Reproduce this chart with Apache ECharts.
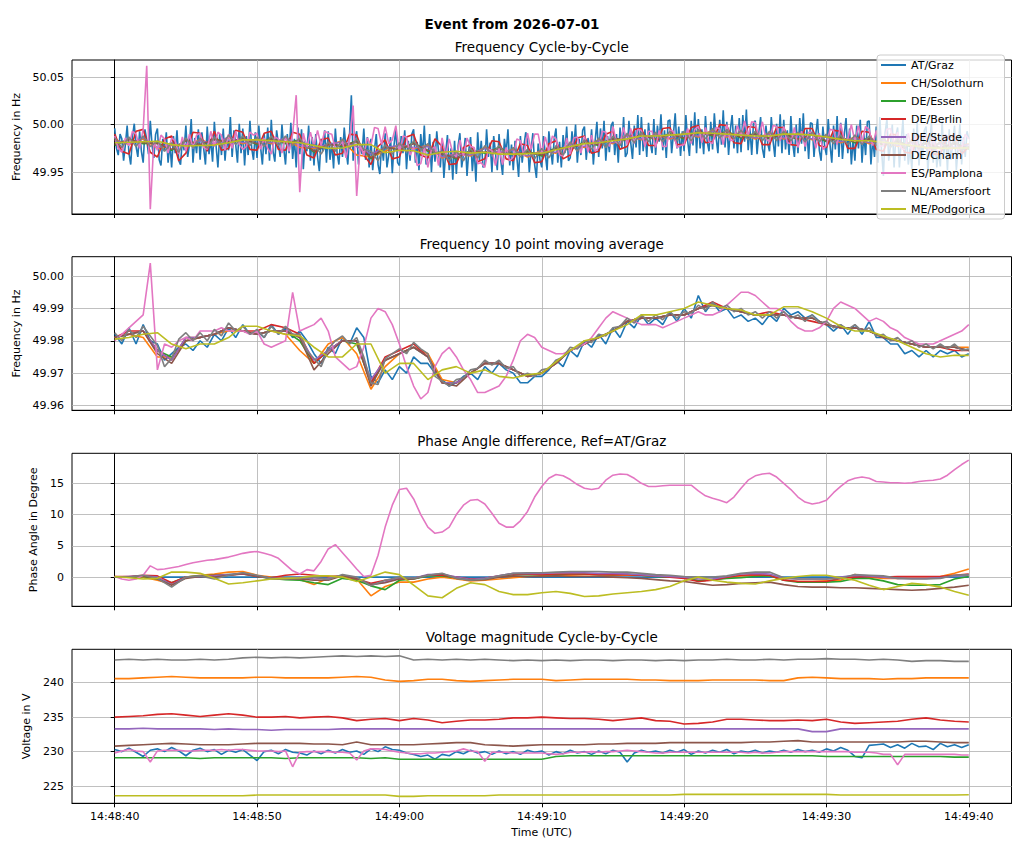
<!DOCTYPE html>
<html><head><meta charset="utf-8">
<script src="https://cdn.jsdelivr.net/npm/echarts@6/dist/echarts.min.js"></script>
<style>html,body{margin:0;padding:0;background:#fff}#c{width:1024px;height:853px}</style>
</head><body><div id="c"></div>
<script>
const stations = ['AT/Graz','CH/Solothurn','DE/Essen','DE/Berlin','DE/Stade','DE/Cham','ES/Pamplona','NL/Amersfoort','ME/Podgorica'];
const colors = ['#1f77b4','#ff7f0e','#2ca02c','#d62728','#9467bd','#8c564b','#e377c2','#7f7f7f','#bcbd22'];
const timeTicks = [0,10,20,30,40,50,60];
const timeTickLabels = ['14:48:40','14:48:50','14:49:00','14:49:10','14:49:20','14:49:30','14:49:40'];
const f1Ticks = [49.95,50.00,50.05];
const f2Ticks = [49.96,49.97,49.98,49.99,50.00];
const pTicks = [0,5,10,15];
const vTicks = [225,230,235,240];

// ---- Panel 1: Frequency cycle-by-cycle (seconds after 14:48:40) ----
const f1_graz = [ // every 0.125 s
49.996,49.975,49.968,49.990,49.985,49.962,49.979,49.999, 49.970,49.958,49.988,50.001,49.977,49.966,49.993,49.972,
49.960,49.995,49.984,49.969,50.004,49.978,49.965,49.990, 49.996,49.963,49.957,49.985,49.972,49.992,49.960,49.981,
49.955,49.988,49.970,49.994,49.962,49.958,49.984,49.973, 49.999,49.966,49.979,50.006,49.960,49.986,49.970,49.995,
49.963,49.992,49.975,49.958,49.998,49.969,49.985,49.961, 50.003,49.977,49.955,49.990,49.968,49.996,49.962,49.987,
49.973,50.008,49.966,49.994,49.979,49.960,50.001,49.970, 49.996,49.957,49.988,49.968,50.004,49.975,49.963,49.992,
49.965,49.999,49.976,49.958,49.990,49.969,49.997,49.962, 50.005,49.972,49.961,49.994,49.980,49.966,50.000,49.975,
49.958,49.990,49.970,50.002,49.964,49.985,49.955,49.997, 49.969,49.995,49.953,49.983,49.972,49.999,49.962,49.987,
49.957,49.990,49.966,49.951,49.985,49.972,49.994,49.960, 49.993,49.963,49.981,49.954,49.996,49.970,49.958,49.987,
49.966,49.997,49.974,49.958,49.991,50.031,49.962,49.985, 49.993,49.958,49.980,49.969,49.996,49.963,49.987,49.955,
49.985,49.952,49.974,49.990,49.958,49.948,49.980,49.962, 49.991,49.955,49.968,49.987,49.949,49.979,49.995,49.960,
49.957,49.988,49.970,49.994,49.953,49.983,49.962,49.990, 49.995,49.960,49.982,49.952,49.990,49.968,49.999,49.958,
49.966,49.990,49.950,49.982,49.961,49.993,49.971,49.955, 49.985,49.944,49.970,49.989,49.952,49.975,49.942,49.983,
49.948,49.978,49.991,49.955,49.969,49.986,49.946,49.973, 49.987,49.951,49.975,49.940,49.992,49.962,49.983,49.955,
49.958,49.995,49.966,49.981,49.950,49.988,49.970,49.952, 49.990,49.962,49.947,49.985,49.970,49.995,49.957,49.979,
49.952,49.983,49.966,49.945,49.988,49.960,49.978,49.992, 49.984,49.950,49.973,49.991,49.958,49.944,49.980,49.963,
49.955,49.988,49.969,49.952,49.993,49.975,49.958,49.985, 49.996,49.960,49.982,49.955,49.989,49.970,49.998,49.962,
49.965,49.993,49.975,50.000,49.960,49.985,49.968,49.994, 49.998,49.963,49.986,49.970,49.995,49.958,49.983,50.003,
49.966,49.996,49.975,50.004,49.962,49.988,49.971,49.999, 50.003,49.968,49.990,49.960,49.997,49.975,50.008,49.966,
49.970,50.004,49.981,49.964,49.999,49.976,50.010,49.968, 50.008,49.972,49.995,49.966,50.002,49.981,49.970,50.006,
49.968,49.999,49.982,50.011,49.973,49.994,49.965,50.004, 50.005,49.970,49.990,50.012,49.975,49.998,49.967,49.993,
49.972,50.010,49.983,49.967,50.004,49.978,50.013,49.970, 50.006,49.975,49.995,49.969,50.009,49.982,49.972,50.003,
49.974,50.012,49.986,49.970,50.005,49.979,50.015,49.976, 50.003,49.968,49.995,50.010,49.975,49.999,49.970,50.007,
49.971,50.010,49.982,50.016,49.973,49.996,49.968,50.002, 50.004,49.969,49.991,50.008,49.975,49.965,49.999,49.980,
49.972,50.008,49.983,49.966,50.001,49.977,50.011,49.970, 50.005,49.974,49.994,49.968,50.009,49.981,49.966,50.000,
49.970,50.007,49.980,50.012,49.972,49.995,49.964,50.002, 50.001,49.966,49.990,50.006,49.973,49.962,49.998,49.977,
49.968,50.006,49.979,49.960,49.999,49.974,50.009,49.966, 50.002,49.964,49.989,50.007,49.970,49.996,49.958,49.985,
49.962,49.999,49.975,50.005,49.960,49.990,49.968,50.003, 50.004,49.958,49.985,49.966,49.998,49.960,50.008,49.972,
49.946,49.992,50.006,49.962,49.979,50.000,49.955,49.988, 49.997,49.955,49.983,50.005,49.962,49.990,49.958,49.975,
49.953,49.996,49.970,50.002,49.957,49.985,49.965,49.994, 49.998,49.950,49.980,50.003,49.960,49.991,49.955,49.972,
49.956,50.004,49.968,49.990,49.952,49.995,49.963,49.984, 49.999,49.952,49.975,50.001,49.958,49.987,49.966,49.993,
49.985];
const f1_solothurn = [ // every 1 s
49.984,49.979,49.985,49.975,49.978,49.978,49.984,49.979,49.986,49.980,49.985,49.980,49.985,49.976,49.975,49.978,
49.983,49.968,49.966,49.972,49.979,49.975,49.978,49.965,49.970,49.967,49.976,49.970,49.974,49.966,49.973,49.970,
49.980,49.976,49.984,49.980,49.989,49.984,49.990,49.985,49.991,49.987,49.994,49.987,49.992,49.985,49.991,49.985,
49.990,49.984,49.988,49.981,49.987,49.980,49.984,49.977,49.982,49.975,49.981,49.975,49.980];
const f1_essen = [
49.978,49.985,49.980,49.981,49.973,49.984,49.978,49.985,49.981,49.986,49.979,49.986,49.980,49.984,49.971,49.980,
49.977,49.983,49.964,49.977,49.973,49.981,49.972,49.970,49.964,49.973,49.970,49.976,49.968,49.972,49.967,49.976,
49.974,49.982,49.978,49.986,49.983,49.990,49.984,49.991,49.985,49.993,49.988,49.993,49.986,49.991,49.985,49.991,
49.984,49.990,49.982,49.987,49.981,49.986,49.978,49.983,49.976,49.981,49.975,49.981,49.974];
const f1_berlin = [ // every 0.5 s
49.990,49.972,49.969,49.993,49.995,49.971,49.966,49.985,49.988,49.962,49.970,49.992,49.991,49.972,49.993,49.973,
49.975,49.994,49.992,49.974,49.973,49.991,49.993,49.974,49.973,49.992,49.990,49.968,49.965,49.984,49.986,49.968,
49.970,49.990,49.989,49.968,49.958,49.977,49.984,49.964,49.966,49.987,49.990,49.968,49.965,49.985,49.977,49.958,
49.959,49.976,49.979,49.961,49.964,49.983,49.982,49.964,49.962,49.980,49.978,49.960,49.961,49.980,49.983,49.964,
49.968,49.986,49.988,49.970,49.972,49.990,49.993,49.974,49.977,49.995,49.996,49.978,49.978,49.996,49.997,49.979,
49.979,49.997,49.999,49.981,49.982,50.000,49.999,49.981,49.980,49.998,49.997,49.979,49.979,49.997,49.997,49.979,
49.978,49.996,49.996,49.978,49.976,49.994,49.993,49.975,49.975,49.993,49.992,49.974,49.972,49.990,49.989,49.971,
49.970,49.988,49.987,49.969,49.969,49.987,49.987,49.969,49.977];
const f1_stade = [
49.983,49.980,49.986,49.976,49.979,49.979,49.983,49.980,49.987,49.981,49.984,49.981,49.986,49.978,49.976,49.979,
49.982,49.977,49.969,49.976,49.978,49.976,49.977,49.966,49.969,49.968,49.975,49.971,49.973,49.967,49.972,49.971,
49.979,49.977,49.983,49.981,49.988,49.985,49.989,49.986,49.990,49.988,49.993,49.988,49.991,49.986,49.990,49.986,
49.989,49.985,49.987,49.982,49.986,49.981,49.983,49.978,49.981,49.976,49.980,49.976,49.979];
const f1_cham = [
49.979,49.984,49.981,49.980,49.974,49.983,49.979,49.984,49.982,49.985,49.980,49.985,49.981,49.983,49.972,49.979,
49.978,49.982,49.965,49.976,49.974,49.980,49.973,49.969,49.965,49.972,49.971,49.975,49.969,49.971,49.968,49.975,
49.975,49.981,49.979,49.985,49.984,49.989,49.985,49.990,49.986,49.992,49.989,49.992,49.987,49.990,49.986,49.990,
49.985,49.989,49.983,49.986,49.982,49.985,49.979,49.982,49.977,49.980,49.976,49.980,49.975];
const f1_pamplona = [ // every 0.25 s
49.988,49.975,49.971,49.986,49.978,49.993,49.990,49.975,49.995,50.062,49.911,49.982,49.973,49.989,49.985,49.970,
49.986,49.983,49.969,49.987,49.972,49.990,49.975,49.989,49.991,49.976,49.974,49.993,49.977,49.992,49.989,49.973,
49.990,49.975,49.993,49.979,49.974,49.977,49.992,49.989,49.991,49.974,49.986,49.975,49.969,49.987,49.985,49.970,
49.988,49.972,49.990,50.031,49.929,49.991,49.976,49.992,49.977,49.994,49.978,49.993,49.991,49.990,49.974,49.978,
49.982,49.965,49.984,50.020,49.925,49.980,49.967,49.986,49.978,49.997,49.996,49.979,49.998,49.980,49.984,49.999,
49.970,49.988,49.987,49.968,49.976,49.957,49.959,49.977,49.955,49.974,49.977,49.957,49.986,49.967,49.985,49.970,
49.966,49.984,49.967,49.986,49.977,49.976,49.959,49.960,49.955,49.974,49.973,49.957,49.975,49.958,49.976,49.962,
49.966,49.985,49.983,49.967,49.991,49.974,49.990,49.990,49.970,49.987,49.972,49.988,49.985,49.968,49.967,49.986,
49.969,49.986,49.987,49.970,49.988,49.971,49.989,49.972,49.976,49.993,49.992,49.977,49.998,49.981,49.980,49.997,
49.979,49.996,49.980,49.995,49.994,49.977,49.993,49.993,49.976,49.994,49.977,49.977,49.994,49.993,49.976,49.978,
49.979,49.996,49.980,49.995,49.998,49.981,49.997,49.982,49.980,49.997,49.996,49.979,50.000,49.983,49.984,49.999,
49.987,50.004,49.988,50.003,50.002,49.986,50.003,49.985,49.982,49.999,49.998,49.983,49.998,49.981,49.980,49.997,
49.976,49.993,49.977,49.992,49.992,49.975,49.991,49.974,49.978,49.995,49.994,49.979,50.001,49.984,49.985,50.000,
49.982,49.999,49.981,49.998,49.995,49.978,49.994,49.977,49.978,49.995,49.996,49.979,49.992,49.975,49.974,49.991,
49.972,49.989,49.971,49.988,49.988,49.971,49.987,49.972,49.972,49.989,49.988,49.973,49.991,49.974,49.975,49.990,
49.985];
const f1_amersfoort = [ // every 0.5 s
49.986,49.976,49.987,49.977,49.988,49.977,49.983,49.972,49.981,49.971,49.986,49.976,49.986,49.975,49.987,49.977,
49.989,49.979,49.988,49.978,49.987,49.977,49.988,49.978,49.988,49.978,49.986,49.975,49.979,49.969,49.982,49.972,
49.985,49.975,49.985,49.974,49.972,49.962,49.979,49.969,49.981,49.971,49.983,49.973,49.980,49.970,49.972,49.962,
49.972,49.962,49.975,49.965,49.978,49.968,49.978,49.968,49.976,49.966,49.974,49.964,49.975,49.965,49.978,49.968,
49.982,49.972,49.984,49.974,49.986,49.976,49.988,49.978,49.991,49.981,49.992,49.982,49.992,49.982,49.993,49.983,
49.993,49.983,49.995,49.985,49.996,49.986,49.995,49.985,49.994,49.984,49.993,49.983,49.993,49.983,49.993,49.983,
49.992,49.982,49.992,49.982,49.990,49.980,49.989,49.979,49.989,49.979,49.988,49.978,49.986,49.976,49.985,49.975,
49.984,49.974,49.983,49.973,49.983,49.973,49.983,49.973,49.977];
const f1_podgorica = [
49.981,49.9815,49.982,49.9825,49.979,49.9775,49.978,49.9785,49.981,49.984,49.984,49.983,49.982,49.981,49.978,49.975,
49.9755,49.979,49.979,49.9705,49.973,49.9725,49.968,49.971,49.972,49.970,49.971,49.969,49.969,49.9695,49.970,49.9735,
49.977,49.980,49.981,49.983,49.985,49.988,49.988,49.989,49.990,49.9915,49.991,49.990,49.989,49.988,49.988,49.990,
49.990,49.989,49.987,49.9845,49.983,49.983,49.9815,49.980,49.978,49.976,49.975,49.9755,49.9755];

// ---- Panel 2: Frequency 10 point moving average ----
const f2_graz = [ // every 0.5 s
49.982,49.979,49.984,49.979,49.985,49.980,49.979,49.974,49.976,49.978,49.979,49.977,49.980,49.978,49.982,49.980,
49.984,49.981,49.985,49.982,49.983,49.981,49.985,49.982,49.984,49.981,49.983,49.980,49.976,49.973,49.978,49.976,
49.981,49.979,49.984,49.981,49.969,49.967,49.971,49.968,49.972,49.970,49.975,49.973,49.973,49.970,49.968,49.966,
49.967,49.969,49.970,49.968,49.972,49.970,49.973,49.971,49.970,49.967,49.967,49.969,49.969,49.971,49.974,49.972,
49.977,49.975,49.980,49.978,49.982,49.979,49.984,49.981,49.986,49.984,49.988,49.985,49.987,49.985,49.989,49.986,
49.990,49.987,49.994,49.989,49.992,49.989,49.990,49.987,49.988,49.986,49.987,49.985,49.988,49.986,49.990,49.988,
49.989,49.987,49.988,49.986,49.985,49.983,49.985,49.982,49.985,49.982,49.986,49.981,49.981,49.979,49.979,49.976,
49.977,49.975,49.977,49.975,49.977,49.976,49.977,49.975,49.976];
const f2_solothurn = [
49.981,49.982,49.981,49.975,49.975,49.980,49.981,49.982,49.983,49.983,49.982,49.983,49.982,49.977,49.973,49.979,
49.981,49.976,49.965,49.972,49.976,49.978,49.976,49.968,49.967,49.970,49.973,49.973,49.971,49.969,49.970,49.973,
49.977,49.979,49.981,49.983,49.986,49.987,49.987,49.988,49.988,49.990,49.991,49.990,49.989,49.988,49.988,49.988,
49.987,49.987,49.985,49.984,49.984,49.983,49.981,49.980,49.979,49.978,49.978,49.978,49.978];
const f2_essen = [
49.981,49.982,49.983,49.977,49.975,49.980,49.981,49.982,49.984,49.983,49.982,49.983,49.983,49.980,49.973,49.977,
49.980,49.979,49.967,49.974,49.976,49.978,49.975,49.967,49.967,49.970,49.973,49.973,49.971,49.969,49.970,49.973,
49.977,49.979,49.981,49.983,49.986,49.987,49.987,49.988,49.988,49.990,49.991,49.990,49.989,49.988,49.988,49.988,
49.987,49.987,49.985,49.984,49.984,49.983,49.981,49.980,49.979,49.978,49.978,49.978,49.977];
const f2_berlin = [
49.981,49.983,49.983,49.977,49.974,49.981,49.981,49.982,49.984,49.983,49.983,49.985,49.984,49.982,49.973,49.977,
49.980,49.980,49.967,49.975,49.977,49.979,49.975,49.967,49.967,49.970,49.973,49.973,49.971,49.969,49.970,49.973,
49.977,49.979,49.981,49.983,49.986,49.987,49.987,49.988,49.988,49.990,49.992,49.990,49.989,49.988,49.989,49.988,
49.987,49.986,49.985,49.984,49.984,49.983,49.981,49.980,49.979,49.978,49.978,49.977,49.977];
const f2_stade = [
49.981,49.982,49.983,49.977,49.974,49.981,49.981,49.982,49.984,49.983,49.982,49.983,49.983,49.981,49.974,49.977,
49.980,49.980,49.968,49.974,49.976,49.978,49.975,49.967,49.967,49.970,49.973,49.973,49.971,49.969,49.970,49.973,
49.977,49.979,49.981,49.983,49.986,49.987,49.987,49.988,49.988,49.990,49.991,49.990,49.989,49.988,49.988,49.988,
49.987,49.987,49.985,49.984,49.984,49.983,49.981,49.980,49.979,49.978,49.978,49.978,49.977];
const f2_cham = [
49.981,49.982,49.983,49.976,49.973,49.980,49.981,49.982,49.984,49.983,49.982,49.983,49.983,49.981,49.971,49.976,
49.980,49.980,49.966,49.974,49.976,49.978,49.975,49.967,49.966,49.970,49.973,49.973,49.971,49.969,49.970,49.973,
49.977,49.979,49.981,49.983,49.986,49.987,49.987,49.988,49.988,49.990,49.991,49.990,49.989,49.988,49.988,49.988,
49.987,49.987,49.985,49.984,49.984,49.983,49.981,49.980,49.979,49.978,49.978,49.978,49.977];
const f2_pamplona = [ // every 0.5 s
49.980,49.982,49.984,49.986,49.988,50.004,49.971,49.979,49.978,49.980,49.981,49.980,49.983,49.983,49.983,49.984,
49.983,49.983,49.983,49.982,49.983,49.979,49.978,49.979,49.980,49.995,49.983,49.984,49.985,49.987,49.983,49.975,
49.973,49.971,49.972,49.978,49.987,49.990,49.989,49.985,49.979,49.972,49.966,49.962,49.964,49.972,49.976,49.978,
49.975,49.971,49.968,49.964,49.964,49.965,49.966,49.969,49.974,49.980,49.982,49.981,49.978,49.977,49.976,49.976,
49.977,49.978,49.979,49.981,49.984,49.987,49.989,49.988,49.987,49.986,49.985,49.985,49.985,49.984,49.985,49.986,
49.987,49.988,49.989,49.988,49.988,49.989,49.991,49.993,49.995,49.995,49.994,49.992,49.990,49.990,49.989,49.986,
49.984,49.983,49.983,49.984,49.986,49.990,49.992,49.991,49.990,49.988,49.986,49.987,49.986,49.984,49.983,49.981,
49.980,49.979,49.979,49.979,49.980,49.981,49.982,49.983,49.985];
const f2_amersfoort = [ // every 0.5 s
49.9825,49.9800,49.9835,49.9810,49.9845,49.9815,49.9785,49.9720,49.9745,49.9805,49.9825,49.9800,49.9825,49.9800,49.9835,49.9815,
49.9855,49.9830,49.9845,49.9820,49.9835,49.9810,49.9845,49.9820,49.9845,49.9820,49.9820,49.9770,49.9745,49.9720,49.9775,49.9800,
49.9815,49.9790,49.9810,49.9750,49.9670,49.9665,49.9745,49.9760,49.9775,49.9760,49.9795,49.9775,49.9760,49.9690,49.9675,49.9660,
49.9680,49.9685,49.9710,49.9715,49.9740,49.9725,49.9740,49.9715,49.9720,49.9690,49.9700,49.9690,49.9710,49.9715,49.9740,49.9750,
49.9780,49.9775,49.9800,49.9795,49.9820,49.9815,49.9840,49.9845,49.9870,49.9855,49.9880,49.9860,49.9880,49.9865,49.9890,49.9870,
49.9890,49.9885,49.9910,49.9895,49.9920,49.9900,49.9910,49.9890,49.9900,49.9880,49.9890,49.9870,49.9890,49.9870,49.9890,49.9870,
49.9880,49.9860,49.9880,49.9855,49.9860,49.9840,49.9850,49.9835,49.9850,49.9830,49.9840,49.9815,49.9820,49.9800,49.9810,49.9790,
49.9800,49.9780,49.9790,49.9775,49.9790,49.9775,49.9790,49.9770,49.9775];
const f2_podgorica = [
49.9805,49.981,49.982,49.9825,49.979,49.9775,49.979,49.979,49.981,49.9845,49.9845,49.983,49.982,49.9815,49.978,49.975,
49.975,49.979,49.979,49.970,49.973,49.973,49.968,49.971,49.972,49.970,49.971,49.969,49.9685,49.9695,49.970,49.9735,
49.977,49.980,49.981,49.983,49.985,49.988,49.988,49.989,49.990,49.992,49.991,49.990,49.9895,49.988,49.988,49.9905,
49.9905,49.989,49.987,49.9845,49.983,49.983,49.9815,49.980,49.978,49.976,49.975,49.9755,49.9755];

// ---- Panel 3: Phase angle difference, Ref=AT/Graz (degree) ----
const p_graz = [
0,0,0,0,0,0,0,0,0,0,0,0,0,0,0,0,0,0,0,0,0,0,0,0,0,0,0,0,0,0,0,0,0,0,0,0,0,0,0,0,0,0,0,0,0,0,0,0,0,0,0,0,0,0,0,0,0,0,0,0,0];
const p_solothurn = [
0,0,0,-0.5,-1.1,0,0.3,0.5,0.8,0.9,0.3,0,-0.2,-0.4,-1.2,-0.2,0.2,-0.3,-3.0,-1.5,-0.8,-0.8,-0.3,0,-0.3,-0.6,-0.5,-0.3,-0.1,0.1,
0.2,0.3,0.3,0.4,0.4,0.3,0.3,0.3,0.2,0.1,0,-0.6,-0.4,-0.1,0.2,0.3,0.2,-0.4,-0.7,-0.7,-0.6,-0.5,0.4,0,-0.2,-0.2,-0.1,0,0.1,0.6,1.3];
const p_essen = [
0,0,0.1,-0.3,-0.9,0,0.2,0.3,0.4,0.5,0.1,-0.2,-0.4,-0.5,-0.9,-1.2,-0.2,-0.5,-1.4,-2.0,-0.5,-0.3,0.2,0.2,-0.1,-0.4,-0.3,0.1,0.4,0.4,
0.4,0.4,0.5,0.5,0.4,0.4,0.5,0.3,0.1,0,0,-0.6,-0.4,-0.2,-0.1,0.1,0.2,-0.5,-0.8,-0.8,-0.8,-0.7,-0.2,-0.2,-0.6,-1.2,-1.3,-1.3,-1.2,-0.3,0.1];
const p_berlin = [
0.1,0.1,0.3,0.2,-0.9,0,0.1,0.3,0.3,0.5,0.1,-0.1,0.3,0.5,0.3,0.1,0.2,-0.3,-1.0,-0.5,-0.3,-0.2,0.3,0.3,0,-0.3,-0.2,0.2,0.5,0.5,
0.4,0.5,0.5,0.5,0.4,0.4,0.4,0.3,0.2,0,-0.2,-0.7,-0.5,0,0.3,0.4,0.3,-0.5,-0.7,-0.7,-0.7,-0.2,0,0.1,0,0.1,0.1,0.1,0.1,0.3,0.5];
const p_stade = [
0,0.1,0.2,0,-1.2,0,0.1,0.2,0.4,0.6,0.2,-0.2,-0.2,0,-0.3,-0.2,0.3,-0.2,-1.2,-0.8,-0.2,-0.2,0.4,0.5,0,-0.4,-0.2,0.2,0.6,0.6,
0.6,0.7,0.7,0.7,0.6,0.6,0.5,0.4,0.2,0.1,0,-0.3,-0.3,0.1,0.5,0.6,0.5,-0.2,-0.3,-0.3,-0.3,0,0.3,0.2,0,-0.2,-0.2,-0.2,-0.1,0.2,0.3];
const p_cham = [
0,0,0.2,-0.3,-1.3,-0.2,0.1,0,0.3,0.6,0.2,-0.2,-0.3,-0.3,-0.5,-0.5,0.2,-0.2,-1.2,-0.9,-0.3,-0.3,0.3,0.5,-0.2,-0.5,-0.4,0,0.2,0.1,
0.1,0.2,0.1,0.1,0.1,0,-0.1,-0.2,-0.4,-0.6,-0.7,-1.0,-1.3,-1.2,-1.0,-0.9,-0.8,-1.2,-1.5,-1.6,-1.6,-1.7,-1.7,-1.8,-1.9,-2.0,-2.1,-2.0,-1.8,-1.6,-1.3];
const p_pamplona = [ // every 0.5 s
0.1,-0.3,-0.5,-0.3,0.3,1.8,1.2,1.3,1.5,1.7,2.0,2.3,2.5,2.7,2.8,3.0,3.2,3.5,3.8,4.0,4.1,3.8,3.5,3.0,2.0,1.0,0.5,1.2,1.0,2.5,
4.5,5.2,3.9,2.6,1.3,0.1,0.3,3.5,8.0,11.5,14.0,14.2,12.5,10.0,8.0,7.0,7.2,8.0,10.0,11.5,12.3,12.4,11.7,10.2,8.6,8.0,8.0,9.0,10.5,12.8,
14.5,15.8,16.4,16.2,15.6,14.8,14.2,14.0,14.2,15.5,16.3,16.5,16.4,15.8,15.0,14.5,14.5,14.6,14.7,14.7,14.7,14.7,13.8,13.0,12.6,12.3,11.9,12.8,14.2,15.5,
16.2,16.5,16.6,16.0,15.0,14.0,12.8,12.0,11.7,11.9,12.3,13.5,14.5,15.4,15.8,16.0,15.8,15.3,15.2,15.1,15.1,15.0,15.1,15.3,15.4,15.5,15.7,16.3,17.2,18.0,
18.7];
const p_amersfoort = [
0,0,0.3,-0.2,-1.6,0,0.2,-0.3,0.3,0.7,0.3,-0.2,-0.3,-0.2,0,-0.4,0.4,0,-1.4,-0.5,0,-0.2,0.3,0.6,-0.2,-0.5,-0.3,0.2,0.6,0.7,
0.7,0.8,0.9,0.9,0.9,0.8,0.8,0.6,0.4,0.3,0.1,0,0,0.2,0.6,0.8,0.8,-0.1,-0.3,-0.3,-0.3,-0.2,0.4,0.3,0.2,-0.2,-0.3,-0.3,-0.2,0.3,0.4];
const p_podgorica = [
0.1,-0.1,-0.3,-0.2,0.8,0.8,0.6,-0.2,-1.1,-0.9,-0.6,-0.3,-0.2,-0.1,0.2,0.2,0,-0.7,0,0.8,0.4,-1.3,-3.0,-3.3,-1.8,-0.9,-1.2,-2.3,-2.8,-2.8,
-2.5,-2.3,-2.6,-3.1,-3.0,-2.7,-2.5,-2.3,-2.0,-1.5,-0.6,0,-0.5,-0.8,-1.0,-1.1,-0.6,-0.2,0.1,0.3,0.3,-0.1,-0.5,-1.3,-2.0,-1.5,-1.0,-1.2,-1.6,-2.3,-2.9];

// ---- Panel 4: Voltage magnitude cycle-by-cycle (V) ----
const v_graz = [ // every 0.5 s
230.3,230.0,230.5,229.9,229.3,230.2,230.4,230.0,230.6,230.1,229.4,230.2,230.5,230.0,230.3,229.6,230.2,229.9,230.3,229.5,
228.7,230.0,230.2,229.7,230.3,229.9,229.8,229.5,230.1,229.7,230.2,229.8,230.3,229.9,230.1,229.6,230.4,230.0,230.7,230.3,
230.2,229.8,229.6,229.3,229.5,228.9,229.6,229.4,230.0,229.7,230.2,229.8,230.0,229.6,230.1,229.7,230.0,229.6,230.2,229.9,
230.1,229.5,230.0,229.7,230.2,229.8,230.0,229.6,230.1,229.7,230.2,229.9,228.5,229.8,230.2,229.9,230.1,229.8,230.2,229.9,
230.3,229.6,230.1,229.8,230.2,229.9,230.3,229.7,230.1,229.9,230.2,229.8,230.1,229.9,230.2,229.9,230.3,230.0,230.2,229.9,
230.4,230.1,230.6,230.2,229.3,229.1,230.9,231.0,231.1,230.6,231.0,230.5,231.2,230.7,230.8,230.3,231.2,230.7,231.0,230.6,
231.0];
const v_solothurn = [
240.6,240.6,240.7,240.8,240.9,240.8,240.7,240.7,240.7,240.7,240.8,240.8,240.7,240.7,240.7,240.7,240.8,240.9,240.8,240.4,
240.2,240.3,240.5,240.5,240.3,240.2,240.3,240.4,240.5,240.5,240.5,240.3,240.4,240.5,240.5,240.5,240.5,240.4,240.4,240.3,
240.3,240.3,240.4,240.4,240.4,240.4,240.3,240.3,240.7,240.8,240.7,240.6,240.6,240.6,240.5,240.6,240.6,240.7,240.7,240.7,
240.7];
const v_essen = [
229.1,229.1,229.1,229.1,229.1,229.1,229.0,229.1,229.1,229.1,229.1,229.1,229.0,229.1,229.1,229.1,229.1,229.1,229.0,229.1,
228.9,228.9,228.9,228.9,228.9,228.9,228.9,228.9,228.9,228.9,228.9,229.3,229.4,229.4,229.4,229.4,229.4,229.4,229.4,229.4,
229.4,229.4,229.4,229.4,229.4,229.4,229.4,229.4,229.4,229.4,229.3,229.3,229.3,229.3,229.3,229.3,229.3,229.3,229.3,229.2,
229.2];
const v_berlin = [
235.0,235.1,235.2,235.4,235.5,235.3,235.1,235.3,235.5,235.3,235.0,235.0,235.1,234.9,235.0,235.1,234.9,234.5,234.7,234.8,
234.5,234.8,234.6,234.2,234.4,234.6,234.6,234.7,234.9,234.9,235.0,234.9,234.8,234.8,234.7,234.5,234.7,234.9,234.5,234.4,
234.0,234.1,234.3,234.7,234.7,234.6,234.5,234.5,234.6,234.5,234.7,234.3,234.1,234.2,234.3,234.4,234.7,234.9,234.6,234.4,
234.3];
const v_stade = [
233.3,233.3,233.4,233.3,233.3,233.3,233.3,233.2,233.3,233.2,233.2,233.1,233.2,233.2,233.2,233.2,233.3,233.3,233.3,233.3,
233.3,233.3,233.3,233.3,233.3,233.3,233.3,233.3,233.3,233.3,233.3,233.3,233.3,233.3,233.3,233.3,233.3,233.3,233.3,233.3,
233.3,233.3,233.3,233.3,233.3,233.3,233.3,233.3,233.3,232.9,232.9,233.3,233.3,233.3,233.3,233.3,233.3,233.3,233.3,233.3,
233.3];
const v_cham = [
230.8,230.9,231.0,231.1,231.2,231.1,231.0,231.0,231.0,231.1,231.2,231.2,231.2,231.2,231.1,231.1,231.0,231.4,231.0,231.0,
231.0,231.0,231.1,231.2,231.3,231.3,231.0,230.9,230.8,230.9,231.0,231.0,231.0,231.0,231.1,231.1,231.2,231.2,231.2,231.3,
231.3,231.3,231.3,231.3,231.3,231.4,231.4,231.5,231.6,231.4,231.4,231.4,231.4,231.4,231.4,231.4,231.5,231.5,231.4,231.3,
231.3];
const v_pamplona = [ // every 0.5 s
229.8,230.1,230.3,230.1,230.0,228.5,230.1,230.2,230.2,230.2,230.1,230.1,230.2,230.2,230.2,230.3,230.2,230.3,230.3,230.2,
230.1,230.1,230.1,230.0,230.1,227.8,229.9,230.0,230.0,230.0,230.0,229.9,229.9,229.8,228.8,230.1,230.4,230.4,230.3,230.1,
229.9,229.8,229.7,229.7,229.8,229.8,229.9,230.0,230.1,230.4,230.1,230.0,228.6,229.9,229.9,229.9,229.8,229.8,229.8,229.8,
229.8,229.7,229.6,229.7,229.9,229.9,229.9,230.0,229.9,230.0,230.0,230.1,230.2,230.1,230.0,229.9,229.8,229.8,229.9,229.9,
229.9,229.9,229.9,229.9,229.9,229.9,229.9,229.9,229.9,229.8,229.9,229.8,229.8,229.9,230.0,230.0,230.0,230.0,230.0,230.0,
230.0,230.0,230.0,230.0,229.9,229.9,229.9,229.8,229.6,229.6,228.1,229.6,229.6,229.6,229.6,229.6,229.6,229.6,229.6,229.5,
229.5];
const v_amersfoort = [
243.3,243.4,243.3,243.4,243.3,243.3,243.4,243.3,243.4,243.6,243.7,243.6,243.7,243.6,243.7,243.8,243.9,243.8,243.9,243.8,
243.9,243.3,243.4,243.3,243.4,243.3,243.4,243.3,243.2,243.3,243.2,243.3,243.2,243.3,243.3,243.2,243.3,243.3,243.2,243.3,
243.2,243.3,243.3,243.4,243.3,243.3,243.4,243.3,243.4,243.4,243.5,243.4,243.4,243.3,243.4,243.3,243.1,243.2,243.2,243.1,
243.1];
const v_podgorica = [
223.6,223.6,223.6,223.6,223.6,223.6,223.6,223.6,223.6,223.6,223.7,223.7,223.7,223.7,223.7,223.7,223.7,223.7,223.7,223.7,
223.5,223.5,223.6,223.6,223.6,223.6,223.6,223.7,223.7,223.7,223.7,223.7,223.7,223.7,223.7,223.7,223.7,223.7,223.7,223.7,
223.8,223.8,223.8,223.8,223.8,223.8,223.8,223.8,223.8,223.8,223.8,223.7,223.7,223.7,223.7,223.7,223.7,223.7,223.7,223.7,
223.75];

// [values, sampling step in seconds] per station, in station order
const panels = [
  [[f1_graz,0.125],[f1_solothurn,1],[f1_essen,1],[f1_berlin,0.5],[f1_stade,1],[f1_cham,1],[f1_pamplona,0.25],[f1_amersfoort,0.5],[f1_podgorica,1]],
  [[f2_graz,0.5],[f2_solothurn,1],[f2_essen,1],[f2_berlin,1],[f2_stade,1],[f2_cham,1],[f2_pamplona,0.5],[f2_amersfoort,0.5],[f2_podgorica,1]],
  [[p_graz,1],[p_solothurn,1],[p_essen,1],[p_berlin,1],[p_stade,1],[p_cham,1],[p_pamplona,0.5],[p_amersfoort,1],[p_podgorica,1]],
  [[v_graz,0.5],[v_solothurn,1],[v_essen,1],[v_berlin,1],[v_stade,1],[v_cham,1],[v_pamplona,0.5],[v_amersfoort,1],[v_podgorica,1]]
];

const FONT = 'DejaVu Sans';
const chart = echarts.init(document.getElementById('c'), null, {renderer:'svg'});
const gridTops = [60, 256.7, 453.3, 649.3];
const gridHeights = [154, 153.6, 153, 154];
const yMins = [49.906, 49.9585, -4.67, 222.5];
const yMaxs = [50.068, 50.006, 19.8, 244.85];
const yTickSets = [f1Ticks, f2Ticks, pTicks, vTicks];
const yDigits = [2, 2, 0, 0];
const yNames = ['Frequency in Hz','Frequency in Hz','Phase Angle in Degree','Voltage in V'];
const yNameGaps = [48, 48, 30, 38];
const titles = ['Frequency Cycle-by-Cycle','Frequency 10 point moving average','Phase Angle difference, Ref=AT/Graz','Voltage magnitude Cycle-by-Cycle'];
const titleY = [46.5, 243.5, 440.5, 636.5];

const grid = [], xAxis = [], yAxis = [], series = [];
const title = [{text:'Event from 2026-07-01', left:512, top:24, textAlign:'center', textVerticalAlign:'middle', padding:0,
  textStyle:{fontFamily:FONT, fontSize:13.5, fontWeight:'bold', color:'#000'}}];
for (let p = 0; p < 4; p++) {
  grid.push({left:72, right:12.5, top:gridTops[p], height:gridHeights[p], show:true, borderColor:'#000', borderWidth:1, backgroundColor:'rgba(0,0,0,0)', containLabel:false});
  title.push({text:titles[p], left:541.75, top:titleY[p], textAlign:'center', textVerticalAlign:'middle', padding:0,
    textStyle:{fontFamily:FONT, fontSize:13.5, fontWeight:'normal', color:'#000'}});
  xAxis.push({type:'value', gridIndex:p, min:-3, max:63, splitNumber:6,
    axisLine:{show:true, onZero:false, lineStyle:{color:'#000', width:1}},
    axisTick:{show:true, customValues:timeTicks, length:4, lineStyle:{color:'#000', width:1}},
    axisLabel:{show:p===3, customValues:timeTicks, margin:8, fontFamily:FONT, fontSize:11, color:'#000',
      formatter:(v)=>timeTickLabels[timeTicks.indexOf(Math.round(v))] || ''},
    splitLine:{show:true, lineStyle:{color:'#b0b0b0', width:0.8}},
    name: p===3 ? 'Time (UTC)' : '', nameLocation:'middle', nameGap:24,
    nameTextStyle:{fontFamily:FONT, fontSize:11, color:'#000'}});
  const ticks = yTickSets[p], dg = yDigits[p];
  yAxis.push({type:'value', gridIndex:p, min:yMins[p], max:yMaxs[p],
    axisLine:{show:true, lineStyle:{color:'#000', width:1}},
    axisTick:{show:true, customValues:ticks, length:4, lineStyle:{color:'#000', width:1}},
    axisLabel:{show:true, customValues:ticks, margin:8, fontFamily:FONT, fontSize:11, color:'#000',
      formatter:(v)=>v.toFixed(dg)},
    splitLine:{show:true, lineStyle:{color:'#b0b0b0', width:0.8}},
    name:yNames[p], nameLocation:'middle', nameGap:yNameGaps[p], nameRotate:90,
    nameTextStyle:{fontFamily:FONT, fontSize:11, color:'#000'}});
  panels[p].forEach((d, s) => {
    const vals = d[0], step = d[1];
    series.push({name:stations[s], type:'line', xAxisIndex:p, yAxisIndex:p,
      data: vals.map((v, i) => [Math.round(i * step * 1000) / 1000, v]),
      showSymbol:false, symbol:'none', silent:true, animation:false,
      lineStyle:{width:1.6, color:colors[s]}, itemStyle:{color:colors[s]}});
  });
}

chart.setOption({
  backgroundColor:'#fff', animation:false,
  title, grid, xAxis, yAxis, series,
  legend:{data:stations, orient:'vertical', left:877, top:55, icon:'rect', itemWidth:25, itemHeight:2, itemGap:4,
    selectedMode:false, backgroundColor:'rgba(255,255,255,0.8)', borderColor:'#cccccc', borderWidth:1, borderRadius:3,
    padding:[3,14,3,4], z:10,
    textStyle:{fontFamily:FONT, fontSize:11, lineHeight:14, color:'#000'}}
});
</script></body></html>
